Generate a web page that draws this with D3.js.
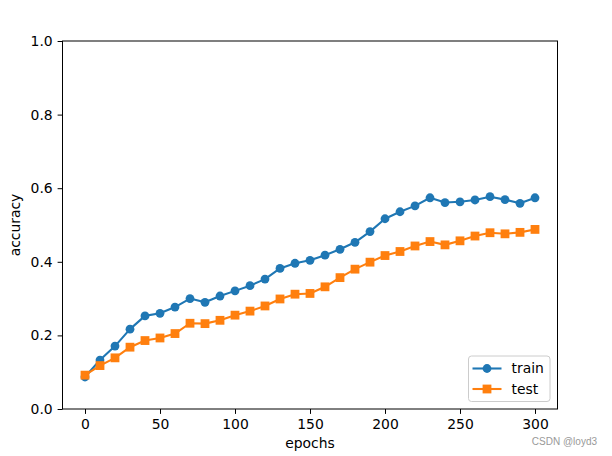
<!DOCTYPE html>
<html>
<head>
<meta charset="utf-8">
<script src="https://cdn.jsdelivr.net/npm/d3@7.9.0/dist/d3.min.js"></script>
<style>
  body { margin: 0; background: #fff; }
  svg { display: block; font-family: 'DejaVu Sans', sans-serif; }
</style>
</head>
<body>
<svg id="chart" width="612" height="456"></svg>
<script>
// values (every 10 epochs)
const epochs = d3.range(0, 301, 10);
const trainAcc = [0.087, 0.133, 0.171, 0.217, 0.253, 0.260, 0.277, 0.300, 0.290, 0.307,
  0.321, 0.335, 0.353, 0.382, 0.396, 0.404, 0.418, 0.434, 0.453, 0.482,
  0.517, 0.536, 0.552, 0.574, 0.561, 0.563, 0.568, 0.577, 0.569, 0.559, 0.574];
const testAcc = [0.092, 0.118, 0.139, 0.168, 0.186, 0.193, 0.205, 0.233, 0.232, 0.241,
  0.255, 0.266, 0.280, 0.299, 0.312, 0.314, 0.332, 0.357, 0.380, 0.399,
  0.417, 0.428, 0.443, 0.455, 0.446, 0.457, 0.470, 0.479, 0.476, 0.480, 0.488];
const xTicks = [0, 50, 100, 150, 200, 250, 300];
const yTicks = [0.0, 0.2, 0.4, 0.6, 0.8, 1.0];

const svg = d3.select('#chart');
const plotLeft = 62.5, plotRight = 557.5, plotTop = 41, plotBottom = 409;

const x = d3.scaleLinear().domain([-15, 315]).range([plotLeft, plotRight]);
const y = d3.scaleLinear().domain([0, 1]).range([plotBottom, plotTop]);

const tickLen = 4.9;
const fontSize = 13.9;

// axes
const xAxis = svg.append('g')
  .attr('transform', `translate(0,${plotBottom})`)
  .call(d3.axisBottom(x).tickValues(xTicks).tickSize(tickLen).tickPadding(4.9).tickFormat(d3.format('d')));
const yAxis = svg.append('g')
  .attr('transform', `translate(${plotLeft},0)`)
  .call(d3.axisLeft(y).tickValues(yTicks).tickSize(tickLen).tickPadding(4.9).tickFormat(d3.format('.1f')));

[xAxis, yAxis].forEach((g) => {
  g.select('.domain').remove();
  g.selectAll('.tick line').attr('stroke', '#000').attr('stroke-width', 1);
  g.selectAll('.tick text')
    .attr('fill', '#000')
    .style('font-size', fontSize + 'px')
    .style('font-family', "'DejaVu Sans', sans-serif");
});
xAxis.selectAll('.tick text').attr('dy', '0.75em');

// spines
svg.append('rect')
  .attr('x', plotLeft).attr('y', plotTop)
  .attr('width', plotRight - plotLeft).attr('height', plotBottom - plotTop)
  .attr('fill', 'none').attr('stroke', '#000').attr('stroke-width', 1);

// labels
svg.append('text')
  .attr('x', (plotLeft + plotRight) / 2).attr('y', 448)
  .attr('text-anchor', 'middle')
  .style('font-size', fontSize + 'px')
  .text('epochs');
svg.append('text')
  .attr('transform', `translate(20,${(plotTop + plotBottom) / 2}) rotate(-90)`)
  .attr('text-anchor', 'middle')
  .style('font-size', fontSize + 'px')
  .text('accuracy');

const series = [
  { name: 'train', values: trainAcc, color: '#1f77b4', marker: 'circle' },
  { name: 'test', values: testAcc, color: '#ff7f0e', marker: 'square' },
];

const line = d3.line()
  .x((d, i) => x(epochs[i]))
  .y((d) => y(d));

const msize = 8.8;

function drawMarker(g, kind, cx, cy, color) {
  if (kind === 'circle') {
    g.append('circle').attr('cx', cx).attr('cy', cy).attr('r', msize / 2).attr('fill', color);
  } else {
    g.append('rect')
      .attr('x', cx - msize / 2).attr('y', cy - msize / 2)
      .attr('width', msize).attr('height', msize)
      .attr('fill', color);
  }
}

const plot = svg.append('g');
series.forEach((s) => {
  plot.append('path')
    .attr('d', line(s.values))
    .attr('fill', 'none')
    .attr('stroke', s.color)
    .attr('stroke-width', 2.08)
    .attr('stroke-linejoin', 'round')
    .attr('stroke-linecap', 'square');
  const mg = plot.append('g');
  s.values.forEach((v, i) => drawMarker(mg, s.marker, x(epochs[i]), y(v), s.color));
});

// legend
const lg = svg.append('g');
lg.append('rect')
  .attr('x', 468.5).attr('y', 356)
  .attr('width', 81.5).attr('height', 45.5)
  .attr('rx', 3)
  .attr('fill', '#fff').attr('fill-opacity', 0.8)
  .attr('stroke', '#cccccc').attr('stroke-width', 1);
series.forEach((s, i) => {
  const cy = 368.5 + i * 20.5;
  lg.append('line')
    .attr('x1', 472.5).attr('x2', 501.5)
    .attr('y1', cy).attr('y2', cy)
    .attr('stroke', s.color).attr('stroke-width', 2.08);
  drawMarker(lg, s.marker, 487, cy, s.color);
  lg.append('text')
    .attr('x', 511.5).attr('y', cy)
    .attr('dy', '0.35em')
    .style('font-size', fontSize + 'px')
    .text(s.name);
});

// watermark
svg.append('text')
  .attr('x', 597).attr('y', 445)
  .attr('text-anchor', 'end')
  .attr('fill', '#999')
  .style('font-family', "'Liberation Sans', Arial, sans-serif")
  .style('font-size', '10px')
  .text('CSDN @loyd3');
</script>
</body>
</html>
